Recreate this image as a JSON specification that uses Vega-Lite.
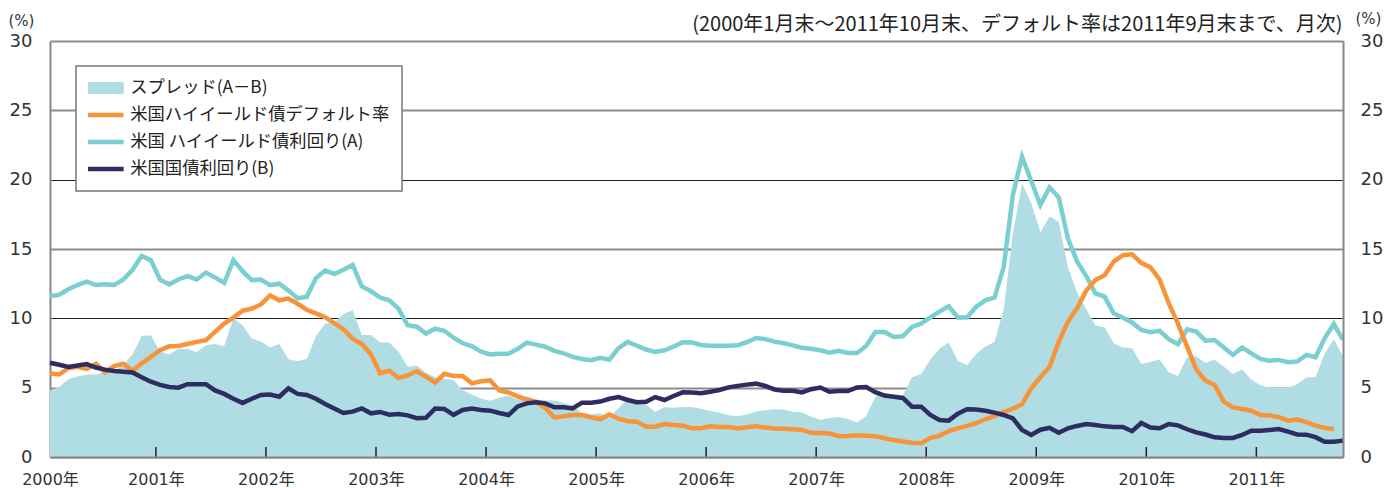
{
  "$schema": "https://vega.github.io/schema/vega-lite/v6.json",
  "width": 1293,
  "height": 416,
  "autosize": {"type": "none"},
  "padding": {"left": 50, "top": 41, "right": 43, "bottom": 31},
  "background": "white",
  "config": {"view": {"stroke": null}},
  "data": {
    "values": [
      {"m":0,"hy":11.6,"ust":6.8,"spread":4.8,"dflt":6.03},
      {"m":1,"hy":11.7,"ust":6.65,"spread":5.05,"dflt":5.95},
      {"m":2,"hy":12.1,"ust":6.5,"spread":5.6,"dflt":6.4},
      {"m":3,"hy":12.4,"ust":6.6,"spread":5.8,"dflt":6.5},
      {"m":4,"hy":12.65,"ust":6.7,"spread":5.95,"dflt":6.35},
      {"m":5,"hy":12.4,"ust":6.45,"spread":5.95,"dflt":6.72},
      {"m":6,"hy":12.45,"ust":6.3,"spread":6.15,"dflt":6.1},
      {"m":7,"hy":12.4,"ust":6.2,"spread":6.2,"dflt":6.55},
      {"m":8,"hy":12.8,"ust":6.15,"spread":6.65,"dflt":6.72},
      {"m":9,"hy":13.5,"ust":6.1,"spread":7.4,"dflt":6.22},
      {"m":10,"hy":14.5,"ust":5.75,"spread":8.75,"dflt":6.75},
      {"m":11,"hy":14.2,"ust":5.43,"spread":8.77,"dflt":7.22},
      {"m":12,"hy":12.8,"ust":5.2,"spread":7.6,"dflt":7.7},
      {"m":13,"hy":12.45,"ust":5.05,"spread":7.4,"dflt":7.98},
      {"m":14,"hy":12.8,"ust":5.0,"spread":7.8,"dflt":8.0},
      {"m":15,"hy":13.05,"ust":5.25,"spread":7.8,"dflt":8.15},
      {"m":16,"hy":12.8,"ust":5.25,"spread":7.55,"dflt":8.3},
      {"m":17,"hy":13.3,"ust":5.25,"spread":8.05,"dflt":8.42},
      {"m":18,"hy":12.95,"ust":4.8,"spread":8.15,"dflt":9.02},
      {"m":19,"hy":12.55,"ust":4.55,"spread":8.0,"dflt":9.62},
      {"m":20,"hy":14.2,"ust":4.2,"spread":10.0,"dflt":10.05},
      {"m":21,"hy":13.4,"ust":3.9,"spread":9.5,"dflt":10.55},
      {"m":22,"hy":12.75,"ust":4.2,"spread":8.55,"dflt":10.7},
      {"m":23,"hy":12.8,"ust":4.47,"spread":8.33,"dflt":11.0},
      {"m":24,"hy":12.4,"ust":4.5,"spread":7.9,"dflt":11.65},
      {"m":25,"hy":12.5,"ust":4.35,"spread":8.15,"dflt":11.3},
      {"m":26,"hy":12.0,"ust":4.95,"spread":7.05,"dflt":11.42},
      {"m":27,"hy":11.45,"ust":4.55,"spread":6.9,"dflt":11.05},
      {"m":28,"hy":11.55,"ust":4.47,"spread":7.08,"dflt":10.62},
      {"m":29,"hy":12.9,"ust":4.2,"spread":8.7,"dflt":10.36},
      {"m":30,"hy":13.45,"ust":3.82,"spread":9.63,"dflt":10.08},
      {"m":31,"hy":13.2,"ust":3.5,"spread":9.7,"dflt":9.65},
      {"m":32,"hy":13.5,"ust":3.18,"spread":10.32,"dflt":9.22},
      {"m":33,"hy":13.85,"ust":3.27,"spread":10.58,"dflt":8.53},
      {"m":34,"hy":12.3,"ust":3.5,"spread":8.8,"dflt":8.14},
      {"m":35,"hy":11.95,"ust":3.15,"spread":8.8,"dflt":7.4},
      {"m":36,"hy":11.5,"ust":3.25,"spread":8.25,"dflt":6.04},
      {"m":37,"hy":11.3,"ust":3.05,"spread":8.25,"dflt":6.23},
      {"m":38,"hy":10.7,"ust":3.1,"spread":7.6,"dflt":5.7},
      {"m":39,"hy":9.5,"ust":3.0,"spread":6.5,"dflt":5.88},
      {"m":40,"hy":9.4,"ust":2.8,"spread":6.6,"dflt":6.18},
      {"m":41,"hy":8.9,"ust":2.83,"spread":6.07,"dflt":5.8},
      {"m":42,"hy":9.25,"ust":3.5,"spread":5.75,"dflt":5.36},
      {"m":43,"hy":9.1,"ust":3.47,"spread":5.63,"dflt":6.0},
      {"m":44,"hy":8.6,"ust":3.04,"spread":5.56,"dflt":5.85},
      {"m":45,"hy":8.2,"ust":3.39,"spread":4.81,"dflt":5.84},
      {"m":46,"hy":8.0,"ust":3.5,"spread":4.5,"dflt":5.31},
      {"m":47,"hy":7.6,"ust":3.39,"spread":4.21,"dflt":5.46},
      {"m":48,"hy":7.4,"ust":3.34,"spread":4.06,"dflt":5.53},
      {"m":49,"hy":7.45,"ust":3.17,"spread":4.28,"dflt":4.8},
      {"m":50,"hy":7.45,"ust":3.03,"spread":4.42,"dflt":4.65},
      {"m":51,"hy":7.8,"ust":3.65,"spread":4.15,"dflt":4.37},
      {"m":52,"hy":8.25,"ust":3.87,"spread":4.38,"dflt":4.14},
      {"m":53,"hy":8.1,"ust":3.95,"spread":4.15,"dflt":3.98},
      {"m":54,"hy":7.95,"ust":3.87,"spread":4.08,"dflt":3.55},
      {"m":55,"hy":7.65,"ust":3.58,"spread":4.07,"dflt":2.84},
      {"m":56,"hy":7.48,"ust":3.58,"spread":3.9,"dflt":2.94},
      {"m":57,"hy":7.22,"ust":3.5,"spread":3.72,"dflt":3.03},
      {"m":58,"hy":7.07,"ust":3.92,"spread":3.15,"dflt":3.03},
      {"m":59,"hy":6.98,"ust":3.92,"spread":3.06,"dflt":2.87},
      {"m":60,"hy":7.15,"ust":4.0,"spread":3.15,"dflt":2.72},
      {"m":61,"hy":7.02,"ust":4.2,"spread":2.82,"dflt":3.06},
      {"m":62,"hy":7.85,"ust":4.32,"spread":3.53,"dflt":2.76},
      {"m":63,"hy":8.3,"ust":4.11,"spread":4.19,"dflt":2.58},
      {"m":64,"hy":8.02,"ust":3.95,"spread":4.07,"dflt":2.55},
      {"m":65,"hy":7.75,"ust":3.99,"spread":3.76,"dflt":2.19},
      {"m":66,"hy":7.58,"ust":4.32,"spread":3.26,"dflt":2.19},
      {"m":67,"hy":7.7,"ust":4.11,"spread":3.59,"dflt":2.38},
      {"m":68,"hy":7.96,"ust":4.4,"spread":3.56,"dflt":2.3},
      {"m":69,"hy":8.27,"ust":4.66,"spread":3.61,"dflt":2.26},
      {"m":70,"hy":8.26,"ust":4.65,"spread":3.61,"dflt":2.07},
      {"m":71,"hy":8.08,"ust":4.6,"spread":3.48,"dflt":2.07},
      {"m":72,"hy":8.02,"ust":4.71,"spread":3.31,"dflt":2.22},
      {"m":73,"hy":8.02,"ust":4.83,"spread":3.19,"dflt":2.16},
      {"m":74,"hy":8.03,"ust":5.02,"spread":3.01,"dflt":2.16},
      {"m":75,"hy":8.06,"ust":5.13,"spread":2.93,"dflt":2.06},
      {"m":76,"hy":8.28,"ust":5.22,"spread":3.06,"dflt":2.15},
      {"m":77,"hy":8.58,"ust":5.29,"spread":3.29,"dflt":2.22},
      {"m":78,"hy":8.5,"ust":5.12,"spread":3.38,"dflt":2.12},
      {"m":79,"hy":8.32,"ust":4.87,"spread":3.45,"dflt":2.05},
      {"m":80,"hy":8.2,"ust":4.78,"spread":3.42,"dflt":2.03},
      {"m":81,"hy":8.05,"ust":4.78,"spread":3.27,"dflt":2.0},
      {"m":82,"hy":7.88,"ust":4.66,"spread":3.22,"dflt":1.95},
      {"m":83,"hy":7.8,"ust":4.89,"spread":2.91,"dflt":1.74},
      {"m":84,"hy":7.7,"ust":5.01,"spread":2.69,"dflt":1.73},
      {"m":85,"hy":7.52,"ust":4.71,"spread":2.81,"dflt":1.7},
      {"m":86,"hy":7.65,"ust":4.76,"spread":2.89,"dflt":1.5},
      {"m":87,"hy":7.5,"ust":4.76,"spread":2.74,"dflt":1.52},
      {"m":88,"hy":7.5,"ust":5.02,"spread":2.48,"dflt":1.57},
      {"m":89,"hy":8.0,"ust":5.05,"spread":2.95,"dflt":1.54},
      {"m":90,"hy":9.02,"ust":4.68,"spread":4.34,"dflt":1.49},
      {"m":91,"hy":9.02,"ust":4.43,"spread":4.59,"dflt":1.35},
      {"m":92,"hy":8.65,"ust":4.35,"spread":4.3,"dflt":1.22},
      {"m":93,"hy":8.7,"ust":4.26,"spread":4.44,"dflt":1.12},
      {"m":94,"hy":9.38,"ust":3.63,"spread":5.75,"dflt":1.03},
      {"m":95,"hy":9.62,"ust":3.63,"spread":5.99,"dflt":1.0},
      {"m":96,"hy":10.07,"ust":3.03,"spread":7.04,"dflt":1.38},
      {"m":97,"hy":10.48,"ust":2.67,"spread":7.81,"dflt":1.53},
      {"m":98,"hy":10.87,"ust":2.62,"spread":8.25,"dflt":1.86},
      {"m":99,"hy":10.06,"ust":3.12,"spread":6.94,"dflt":2.06},
      {"m":100,"hy":10.06,"ust":3.44,"spread":6.62,"dflt":2.25},
      {"m":101,"hy":10.84,"ust":3.42,"spread":7.42,"dflt":2.45},
      {"m":102,"hy":11.3,"ust":3.34,"spread":7.96,"dflt":2.72},
      {"m":103,"hy":11.5,"ust":3.2,"spread":8.3,"dflt":2.97},
      {"m":104,"hy":13.7,"ust":3.03,"spread":10.67,"dflt":3.23},
      {"m":105,"hy":18.9,"ust":2.79,"spread":16.11,"dflt":3.48},
      {"m":106,"hy":21.66,"ust":1.95,"spread":19.71,"dflt":3.8},
      {"m":107,"hy":19.9,"ust":1.59,"spread":18.31,"dflt":4.95},
      {"m":108,"hy":18.17,"ust":1.97,"spread":16.2,"dflt":5.75},
      {"m":109,"hy":19.45,"ust":2.1,"spread":17.35,"dflt":6.5},
      {"m":110,"hy":18.72,"ust":1.75,"spread":16.97,"dflt":8.3},
      {"m":111,"hy":15.77,"ust":2.07,"spread":13.7,"dflt":9.76},
      {"m":112,"hy":14.1,"ust":2.24,"spread":11.86,"dflt":10.72},
      {"m":113,"hy":13.05,"ust":2.38,"spread":10.67,"dflt":12.0},
      {"m":114,"hy":11.8,"ust":2.31,"spread":9.49,"dflt":12.76},
      {"m":115,"hy":11.56,"ust":2.21,"spread":9.35,"dflt":13.1},
      {"m":116,"hy":10.36,"ust":2.16,"spread":8.2,"dflt":14.09},
      {"m":117,"hy":10.05,"ust":2.16,"spread":7.89,"dflt":14.55},
      {"m":118,"hy":9.7,"ust":1.86,"spread":7.84,"dflt":14.62},
      {"m":119,"hy":9.16,"ust":2.45,"spread":6.71,"dflt":14.0},
      {"m":120,"hy":9.0,"ust":2.13,"spread":6.87,"dflt":13.68},
      {"m":121,"hy":9.1,"ust":2.07,"spread":7.03,"dflt":12.8},
      {"m":122,"hy":8.49,"ust":2.38,"spread":6.11,"dflt":11.08},
      {"m":123,"hy":8.13,"ust":2.28,"spread":5.85,"dflt":9.62},
      {"m":124,"hy":9.2,"ust":2.0,"spread":7.2,"dflt":7.96},
      {"m":125,"hy":9.04,"ust":1.77,"spread":7.27,"dflt":6.3},
      {"m":126,"hy":8.39,"ust":1.62,"spread":6.77,"dflt":5.5},
      {"m":127,"hy":8.44,"ust":1.42,"spread":7.02,"dflt":5.19},
      {"m":128,"hy":7.9,"ust":1.37,"spread":6.53,"dflt":3.99},
      {"m":129,"hy":7.36,"ust":1.37,"spread":5.99,"dflt":3.58},
      {"m":130,"hy":7.9,"ust":1.59,"spread":6.31,"dflt":3.46},
      {"m":131,"hy":7.48,"ust":1.89,"spread":5.59,"dflt":3.34},
      {"m":132,"hy":7.07,"ust":1.89,"spread":5.18,"dflt":3.03},
      {"m":133,"hy":6.95,"ust":1.95,"spread":5.0,"dflt":3.0},
      {"m":134,"hy":7.0,"ust":2.02,"spread":4.98,"dflt":2.88},
      {"m":135,"hy":6.83,"ust":1.83,"spread":5.0,"dflt":2.62},
      {"m":136,"hy":6.88,"ust":1.63,"spread":5.25,"dflt":2.7},
      {"m":137,"hy":7.36,"ust":1.61,"spread":5.75,"dflt":2.52},
      {"m":138,"hy":7.19,"ust":1.43,"spread":5.76,"dflt":2.26},
      {"m":139,"hy":8.56,"ust":1.1,"spread":7.46,"dflt":2.1},
      {"m":140,"hy":9.6,"ust":1.1,"spread":8.5,"dflt":2.0},
      {"m":141,"hy":8.44,"ust":1.18,"spread":7.26,"dflt":null}
    ]
  },
  "encoding": {
    "x": {
      "field": "m",
      "type": "quantitative",
      "scale": {"domain": [0, 141], "nice": false, "zero": false},
      "axis": {
        "values": [0, 11.55, 23.55, 35.55, 47.55, 59.55, 71.55, 83.55, 95.55, 107.55, 119.55, 131.55],
        "labelExpr": "(2000 + round(datum.value / 12)) + '年'",
        "labelFlush": false,
        "labelOverlap": false,
        "labelFont": "DejaVu Sans, Noto Sans CJK JP",
        "labelFontSize": 16,
        "labelColor": "#333",
        "labelPadding": 14,
        "ticks": false,
        "domain": true,
        "domainColor": "#888",
        "domainWidth": 2,
        "grid": false,
        "title": "(2000年1月末～2011年10月末、デフォルト率は2011年9月末まで、月次)",
        "titleFont": "Noto Sans CJK JP",
        "titleFontSize": 20,
        "titleFontWeight": "normal",
        "titleColor": "#222",
        "titleAlign": "right",
        "titleAnchor": "end",
        "titleBaseline": "alphabetic",
        "titleX": 1292,
        "titleY": -427,
        "zindex": 1
      }
    }
  },
  "layer": [
    {
      "layer": [
        {
          "mark": {"type": "area", "interpolate": "linear"},
          "encoding": {
            "y": {
              "field": "spread",
              "type": "quantitative",
              "scale": {"domain": [0, 30], "nice": false},
              "axis": {
                "values": [0, 5, 10, 15, 20, 25, 30],
                "title": "(%)",
                "titleAngle": 0,
                "titleAlign": "left",
                "titleBaseline": "alphabetic",
                "titleX": -42,
                "titleY": -16,
                "titleFont": "DejaVu Sans",
                "titleFontSize": 15,
                "titleFontWeight": "normal",
                "titleColor": "#333",
                "labelFont": "DejaVu Sans",
                "labelFontSize": 18,
                "labelColor": "#333",
                "labelPadding": 18,
                "ticks": false,
                "domainColor": "#888",
                "domainWidth": 2,
                "grid": true,
                "gridColor": {"condition": {"test": "datum.value == 10 || datum.value == 20", "value": "#222"}, "value": "#8c8c8c"},
                "gridWidth": {"condition": {"test": "datum.value == 10 || datum.value == 20", "value": 1.2}, "value": 2},
                "zindex": 0
              }
            },
            "color": {
              "datum": "スプレッド(A－B)",
              "scale": {
                "domain": ["スプレッド(A－B)", "米国ハイイールド債デフォルト率", "米国 ハイイールド債利回り(A)", "米国国債利回り(B)"],
                "range": ["#b0dde4", "#f7943a", "#7ccfd0", "#2e2d62"]
              },
              "legend": {
                "orient": "none",
                "legendX": 26,
                "legendY": 25,
                "title": null,
                "direction": "vertical",
                "padding": 12,
                "fillColor": "white",
                "strokeColor": "#777",
                "labelFont": "Noto Sans CJK JP",
                "labelFontSize": 17.3,
                "labelColor": "#222",
                "labelLimit": 500,
                "labelOffset": 16,
                "symbolOffset": 9,
                "clipHeight": 20,
                "rowPadding": 7,
                "symbolType": "stroke",
                "symbolSize": 1296,
                "symbolStrokeWidth": 4.5,
                "encode": {
                  "symbols": {
                    "update": {
                      "shape": {"value": "stroke"},
                      "stroke": {"scale": "color", "field": "value"},
                      "fill": {"value": "transparent"},
                      "opacity": {"value": 1},
                      "strokeWidth": {"signal": "datum.value === 'スプレッド(A－B)' ? 12 : 4.5"}
                    }
                  },
                  "legend": {"update": {"strokeWidth": {"value": 1.5}}}
                }
              }
            }
          }
        },
        {
          "mark": {"type": "line", "strokeWidth": 4.5},
          "encoding": {
            "y": {"field": "hy", "type": "quantitative", "title": "(%)"},
            "color": {"datum": "米国 ハイイールド債利回り(A)"}
          }
        },
        {
          "mark": {"type": "line", "strokeWidth": 4.5},
          "encoding": {
            "y": {"field": "dflt", "type": "quantitative", "title": "(%)"},
            "color": {"datum": "米国ハイイールド債デフォルト率"}
          }
        },
        {
          "mark": {"type": "line", "strokeWidth": 4.5},
          "encoding": {
            "y": {"field": "ust", "type": "quantitative", "title": "(%)"},
            "color": {"datum": "米国国債利回り(B)"}
          }
        },
        {
          "data": {"values": [{"m": 11.55}, {"m": 23.55}, {"m": 35.55}, {"m": 47.55}, {"m": 59.55}, {"m": 71.55}, {"m": 83.55}, {"m": 95.55}, {"m": 107.55}, {"m": 119.55}, {"m": 131.55}]},
          "mark": {"type": "rule", "color": "#222", "strokeWidth": 1.5},
          "encoding": {
            "y": {"datum": 0, "type": "quantitative", "title": "(%)"},
            "y2": {"datum": 0.72}
          }
        }
      ]
    },
    {
      "mark": {"type": "line", "opacity": 0},
      "encoding": {
        "y": {
          "field": "ust",
          "type": "quantitative",
          "scale": {"domain": [0, 30], "nice": false},
          "axis": {
            "orient": "right",
            "values": [0, 5, 10, 15, 20, 25, 30],
            "title": "(%)",
            "titleAngle": 0,
            "titleAlign": "left",
            "titleBaseline": "alphabetic",
            "titleX": 12,
            "titleY": -18,
            "titleFont": "DejaVu Sans",
            "titleFontSize": 15,
            "titleFontWeight": "normal",
            "titleColor": "#333",
            "labelFont": "DejaVu Sans",
            "labelFontSize": 18,
            "labelColor": "#333",
            "labelPadding": 17,
            "ticks": false,
            "domainColor": "#888",
            "domainWidth": 2,
            "grid": false,
            "zindex": 1
          }
        }
      }
    }
  ],
  "resolve": {"scale": {"y": "independent"}}
}
